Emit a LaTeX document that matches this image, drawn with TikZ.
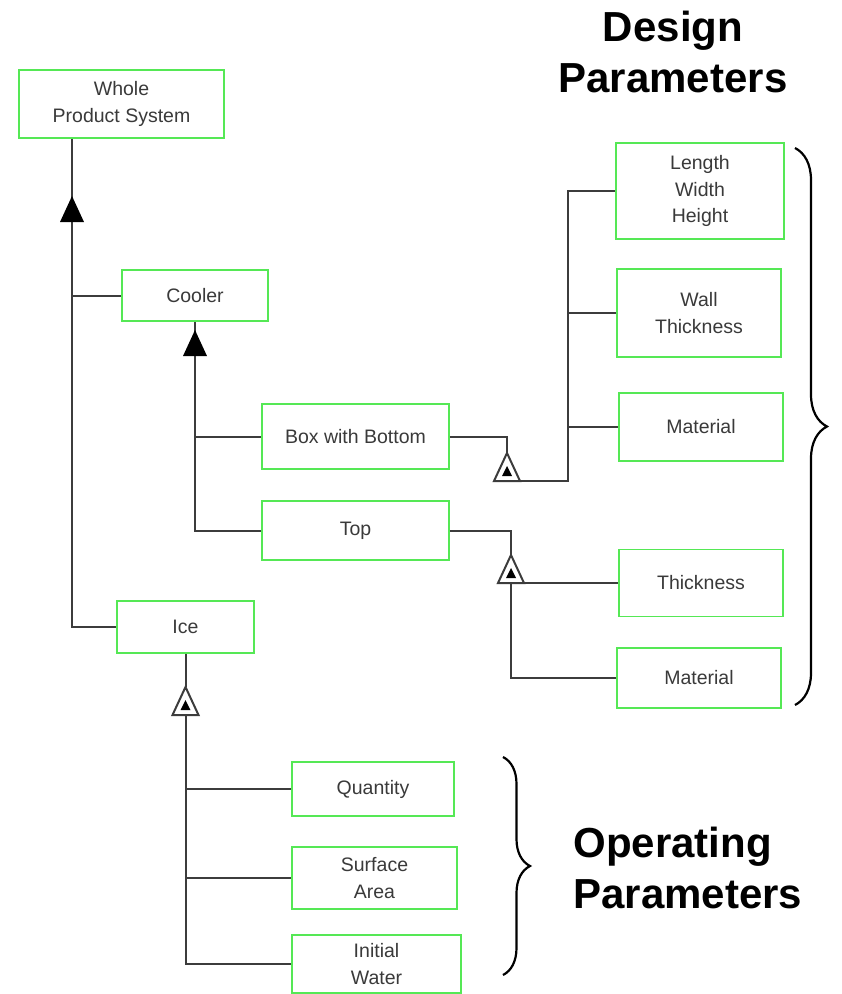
\documentclass[tikz,border=0pt]{standalone}
\usepackage{fontspec}
\setmainfont{Liberation Sans}
\usetikzlibrary{calc,decorations.pathreplacing}
\definecolor{boxgreen}{RGB}{85,232,85}
\definecolor{linegray}{RGB}{60,60,60}
\definecolor{textgray}{RGB}{58,58,58}

\begin{document}
\begin{tikzpicture}[x=1pt,y=-1pt,
  part/.style={draw=boxgreen,line width=1.8pt,fill=white,inner sep=0pt,align=center,text=textgray,font=\fontsize{19.5}{26.5}\selectfont},
  link/.style={draw=linegray,line width=2pt},
  heading/.style={font=\bfseries\fontsize{42}{51}\selectfont},
  brace/.style={decorate,line width=2.2pt},
  solidtri/.pic={\fill[black] (0,0) -- (12,26) -- (-12,26) -- cycle;},
  opentri/.pic={\draw[fill=white,draw=linegray,line width=2pt] (0,0) -- (13,28) -- (-13,28) -- cycle; \fill (0,13) -- (5,23) -- (-5,23) -- cycle;}]
\useasboundingbox (0,0) rectangle (842,994);
\node[part,minimum width=205,minimum height=68] (whole) at (121.5,104) {Whole\\Product System};
\node[part,minimum width=146,minimum height=51] (cooler) at (195,295.5) {Cooler};
\node[part,minimum width=187,minimum height=65] (bwb) at (355.5,436.5) {Box with Bottom};
\node[part,minimum width=187,minimum height=59] (top) at (355.5,530.5) {Top};
\node[part,minimum width=137,minimum height=52] (ice) at (185.5,627) {Ice};
\node[part,minimum width=162,minimum height=54] (quantity) at (373,789) {Quantity};
\node[part,minimum width=165,minimum height=62] (surface) at (374.5,878) {Surface\\Area};
\node[part,minimum width=169,minimum height=58] (initial) at (376.5,964) {Initial\\Water};
\node[part,minimum width=168,minimum height=96] (lwh) at (700,191) {Length\\Width\\Height};
\node[part,minimum width=164,minimum height=88] (wall) at (699,313) {Wall\\Thickness};
\node[part,minimum width=164,minimum height=68] (mat1) at (701,427) {Material};
\node[part,minimum width=164,minimum height=67] (thick) at (701,583) {Thickness};
\node[part,minimum width=164,minimum height=60] (mat2) at (699,678) {Material};
\node[heading,align=center] (design) at (673,52) {Design\\Parameters};
\node[heading,align=left,anchor=west] (operating) at (570,868) {Operating\\Parameters};

\coordinate (spine) at (72,627);
\draw[link] (whole.south -| spine) -- (spine) -- (ice.west);
\draw[link] (spine |- cooler.west) -- (cooler.west);
\draw[link] (cooler.south) |- (top.west);
\draw[link] (cooler.south |- bwb.west) -- (bwb.west);

\coordinate (tA) at (507,453); \coordinate (tAb) at (520,481); \coordinate (busA) at (568,481);
\draw[link] (bwb.east) -| (tA);
\draw[link] (tAb) -- (busA) |- (lwh.west);
\draw[link] (busA |- wall.west) -- (wall.west);
\draw[link] (busA |- mat1.west) -- (mat1.west);

\coordinate (tB) at (511,555); \coordinate (tBb) at (511,583);
\draw[link] (top.east) -| (tB);
\draw[link] (tBb) -- (thick.west);
\draw[link] (tBb) |- (mat2.west);

\coordinate (tC) at (185.5,687); \coordinate (tCb) at (185.5,715);
\draw[link] (ice.south) -- (tC);
\draw[link] (tCb) |- (initial.west);
\draw[link] (tCb |- quantity.west) -- (quantity.west);
\draw[link] (tCb |- surface.west) -- (surface.west);

\pic at (72,196) {solidtri};
\pic at (195,330) {solidtri};
\pic at (tA) {opentri};
\pic at (tB) {opentri};
\pic at (tC) {opentri};

\draw[brace,decoration={brace,amplitude=32pt}] (795,148) -- (795,705);
\draw[brace,decoration={brace,amplitude=27pt}] (503,757) -- (503,975);
\end{tikzpicture}
\end{document}
